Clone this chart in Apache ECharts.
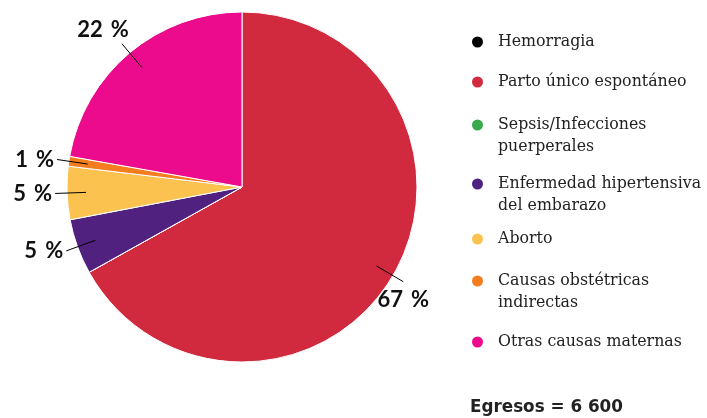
<!DOCTYPE html>
<html><head><meta charset="utf-8">
<script src="https://cdn.jsdelivr.net/npm/echarts@6/dist/echarts.min.js"></script>
<style>html,body{margin:0;padding:0;background:#fff}#c{width:707px;height:418px}</style>
</head><body><div id="c"></div>
<script>
const categories = ['Hemorragia','Parto único espontáneo','Sepsis/Infecciones puerperales','Enfermedad hipertensiva del embarazo','Aborto','Causas obstétricas indirectas','Otras causas maternas'];
const legendLabels = ['Hemorragia','Parto único espontáneo','Sepsis/Infecciones\npuerperales','Enfermedad hipertensiva\ndel embarazo','Aborto','Causas obstétricas\nindirectas','Otras causas maternas'];
const values = [0, 66.9, 0, 5.1, 4.9, 0.9, 22.2];
const colors = ['#000000','#d12a3f','#3aa94b','#512180','#fbc250','#f47d20','#ec0b8c'];
const totalLabel = 'Egresos = 6 600';

const legendIconY = [42, 82, 125, 184, 239, 281, 342];
const center = [242, 187];

const chart = echarts.init(document.getElementById('c'));
const mainData = categories.map((n,i)=>({name:n, value:values[i], itemStyle:{color:colors[i]}}));
const labelData = categories.map((n,i)=>({name:n, value:values[i]})).filter(d=>d.value>0);

const legends = categories.map((n,i)=>{
  const multi = legendLabels[i].indexOf('\n')>=0;
  return {
    data:[n], orient:'vertical', left:470, top: multi ? legendIconY[i]-33 : legendIconY[i]-11,
    padding:0, icon:'circle', itemWidth:13, itemHeight:13, selectedMode:false,
    formatter: ()=> multi ? '\n' + legendLabels[i] : legendLabels[i],
    textStyle:{fontFamily:'DejaVu Serif', fontSize:15.8, color:'#222', lineHeight:22,
      padding:[0,0,0,9]}
  };
});

chart.setOption({
  animation:false,
  title:{text:totalLabel, left:470, top:399, padding:0,
    textStyle:{fontFamily:'DejaVu Sans', fontWeight:'bold', fontSize:16.8, color:'#222'}},
  legend: legends,
  series:[
    {type:'pie', center:center, radius:175, startAngle:90, clockwise:true, z:2,
     data:mainData, label:{show:false}, labelLine:{show:false},
     itemStyle:{borderColor:'#fff', borderWidth:1}, emphasis:{disabled:true}, silent:true},
    {type:'pie', center:center, radius:156, startAngle:90, clockwise:true, z:5,
     data:labelData, silent:true, emphasis:{disabled:true}, avoidLabelOverlap:false,
     itemStyle:{color:'rgba(0,0,0,0)'},
     label:{show:true, position:'outside', distanceToLabelLine:3,
       formatter: p => Math.round(p.value) + ' \u2009%',
       fontFamily:'Lato', fontWeight:'bold', fontSize:22, color:'#111'},
     labelLine:{show:true, length:31, length2:0, smooth:false, lineStyle:{color:'#000', width:1}},
     labelLayout: function(p){
       const pts = p.labelLinePoints;
       if (!pts) return {};
       const s = pts[0], e = pts[pts.length-1];
       const dx = e[0]-s[0], dy = e[1]-s[1];
       if (Math.abs(dy) <= Math.abs(dx)*0.5) return {};
       if (dy < 0) return {x:e[0]+7, y:e[1]-3, align:'right', verticalAlign:'bottom', labelLinePoints:pts};
       return {x:e[0], y:e[1]+7, align:'center', verticalAlign:'top', labelLinePoints:pts};
     }}
  ]
});
</script></body></html>
